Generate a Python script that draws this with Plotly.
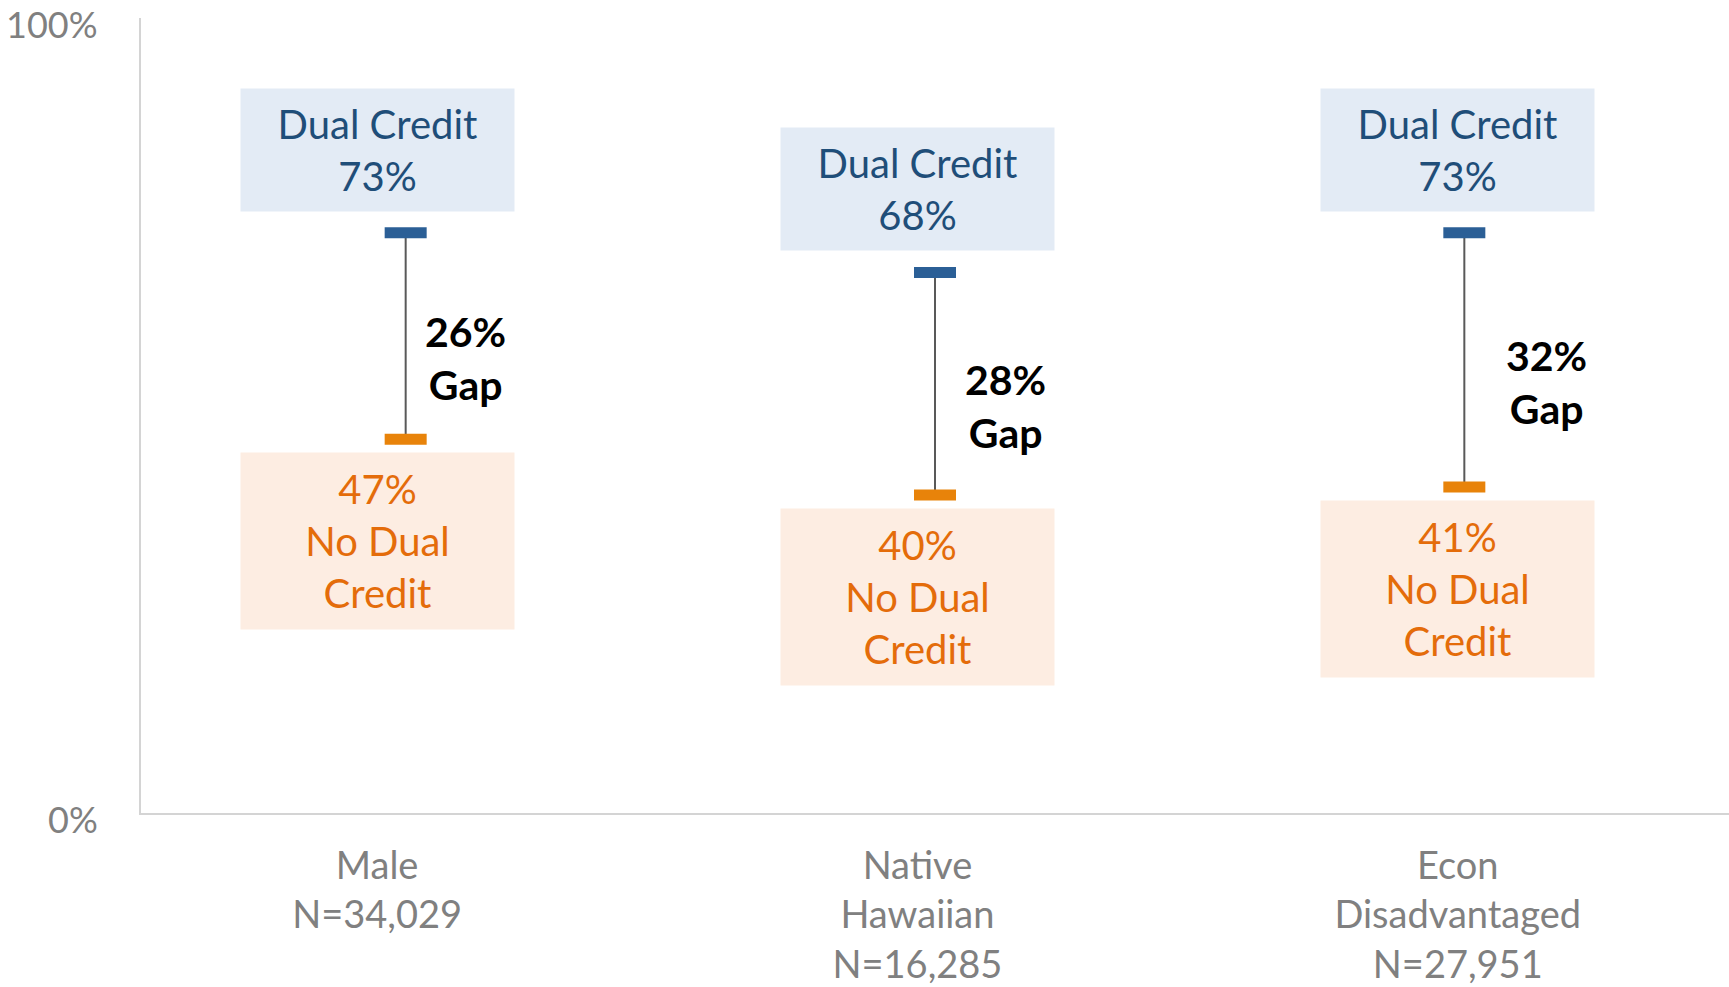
import plotly.graph_objects as go

categories = ["Male<br>N=34,029", "Native<br>Hawaiian<br>N=16,285", "Econ<br>Disadvantaged<br>N=27,951"]
dual_credit = [73, 68, 73]
no_dual_credit = [47, 40, 41]
y_tick_vals = [0, 100]
y_tick_text = ["0%", "100%"]

FONT = "Gill Sans MT, Gill Sans, Lato, sans-serif"
BLUE_TXT = "#1F4E79"
BLUE_BOX = "#E3EBF5"
BLUE_MK = "#2B5F96"
ORG_TXT = "#E46C0A"
ORG_BOX = "#FDEDE2"
ORG_MK = "#E8830A"
GRAY = "#808080"
AXIS = "#D4D4D4"

xs = list(range(len(categories)))

fig = go.Figure()

# connector lines
lx, ly = [], []
for i in xs:
    lx += [i, i, None]
    ly += [dual_credit[i], no_dual_credit[i], None]
fig.add_trace(go.Scatter(x=lx, y=ly, mode="lines", line=dict(color="#595959", width=2),
                         hoverinfo="skip", showlegend=False))
fig.add_trace(go.Scatter(x=xs, y=dual_credit, mode="markers",
                         marker=dict(symbol="line-ew", size=30, line=dict(width=11, color=BLUE_MK)),
                         showlegend=False, name="Dual Credit"))
fig.add_trace(go.Scatter(x=xs, y=no_dual_credit, mode="markers",
                         marker=dict(symbol="line-ew", size=30, line=dict(width=11, color=ORG_MK)),
                         showlegend=False, name="No Dual Credit"))
# invisible trace on label axis
fig.add_trace(go.Scatter(x=xs, y=[None]*len(xs), xaxis="x2", mode="markers",
                         showlegend=False, hoverinfo="skip"))

for i in xs:
    fig.add_annotation(x=i, xref="x2", y=dual_credit[i], yref="y", yanchor="bottom", yshift=21,
                       text=f"Dual Credit<br>{dual_credit[i]}%", showarrow=False,
                       width=273, height=122, bgcolor=BLUE_BOX, borderpad=0,
                       font=dict(family=FONT, size=40, color=BLUE_TXT), align="center", valign="middle")
    fig.add_annotation(x=i, xref="x2", y=no_dual_credit[i], yref="y", yanchor="top", yshift=-13,
                       text=f"{no_dual_credit[i]}%<br>No Dual<br>Credit", showarrow=False,
                       width=273, height=176, bgcolor=ORG_BOX, borderpad=0,
                       font=dict(family=FONT, size=40, color=ORG_TXT), align="center", valign="middle")
    gap = dual_credit[i] - no_dual_credit[i]
    fig.add_annotation(x=i + 0.085, xref="x2", xanchor="left",
                       y=(dual_credit[i] + no_dual_credit[i]) / 2, yref="y", yshift=-22,
                       text=f"<b>{gap}%<br>Gap</b>", showarrow=False,
                       font=dict(family=FONT, size=41, color="#000000"), align="center")

# y tick labels (drawn slightly below their gridline positions, as in the reference)
for v, t in zip(y_tick_vals, y_tick_text):
    fig.add_annotation(x=0, xref="paper", xanchor="right", xshift=-41, y=v, yref="y",
                       yanchor="middle", yshift=-6, text=t, showarrow=False,
                       font=dict(family=FONT, size=36, color=GRAY))

fig.update_layout(
    width=1729, height=987,
    margin=dict(l=141, r=0, t=18, b=174, autoexpand=False),
    plot_bgcolor="white", paper_bgcolor="white",
    font=dict(family=FONT, color=GRAY),
    xaxis=dict(range=[-0.5, 2.5], showticklabels=False, showline=True, linecolor=AXIS,
               linewidth=2, showgrid=False, zeroline=False, ticks="", automargin=False),
    xaxis2=dict(range=[-0.437, 2.502], overlaying="x", side="bottom", anchor="y",
                tickvals=xs, ticktext=categories, showline=False, showgrid=False, zeroline=False,
                ticks="", tickfont=dict(family=FONT, size=38, color=GRAY), ticklabelstandoff=27,
                automargin=False),
    yaxis=dict(range=[0, 100], showticklabels=False, showline=True,
               linecolor=AXIS, linewidth=2, showgrid=False, zeroline=False, ticks="",
               automargin=False),
)

fig.write_html("out.html")
